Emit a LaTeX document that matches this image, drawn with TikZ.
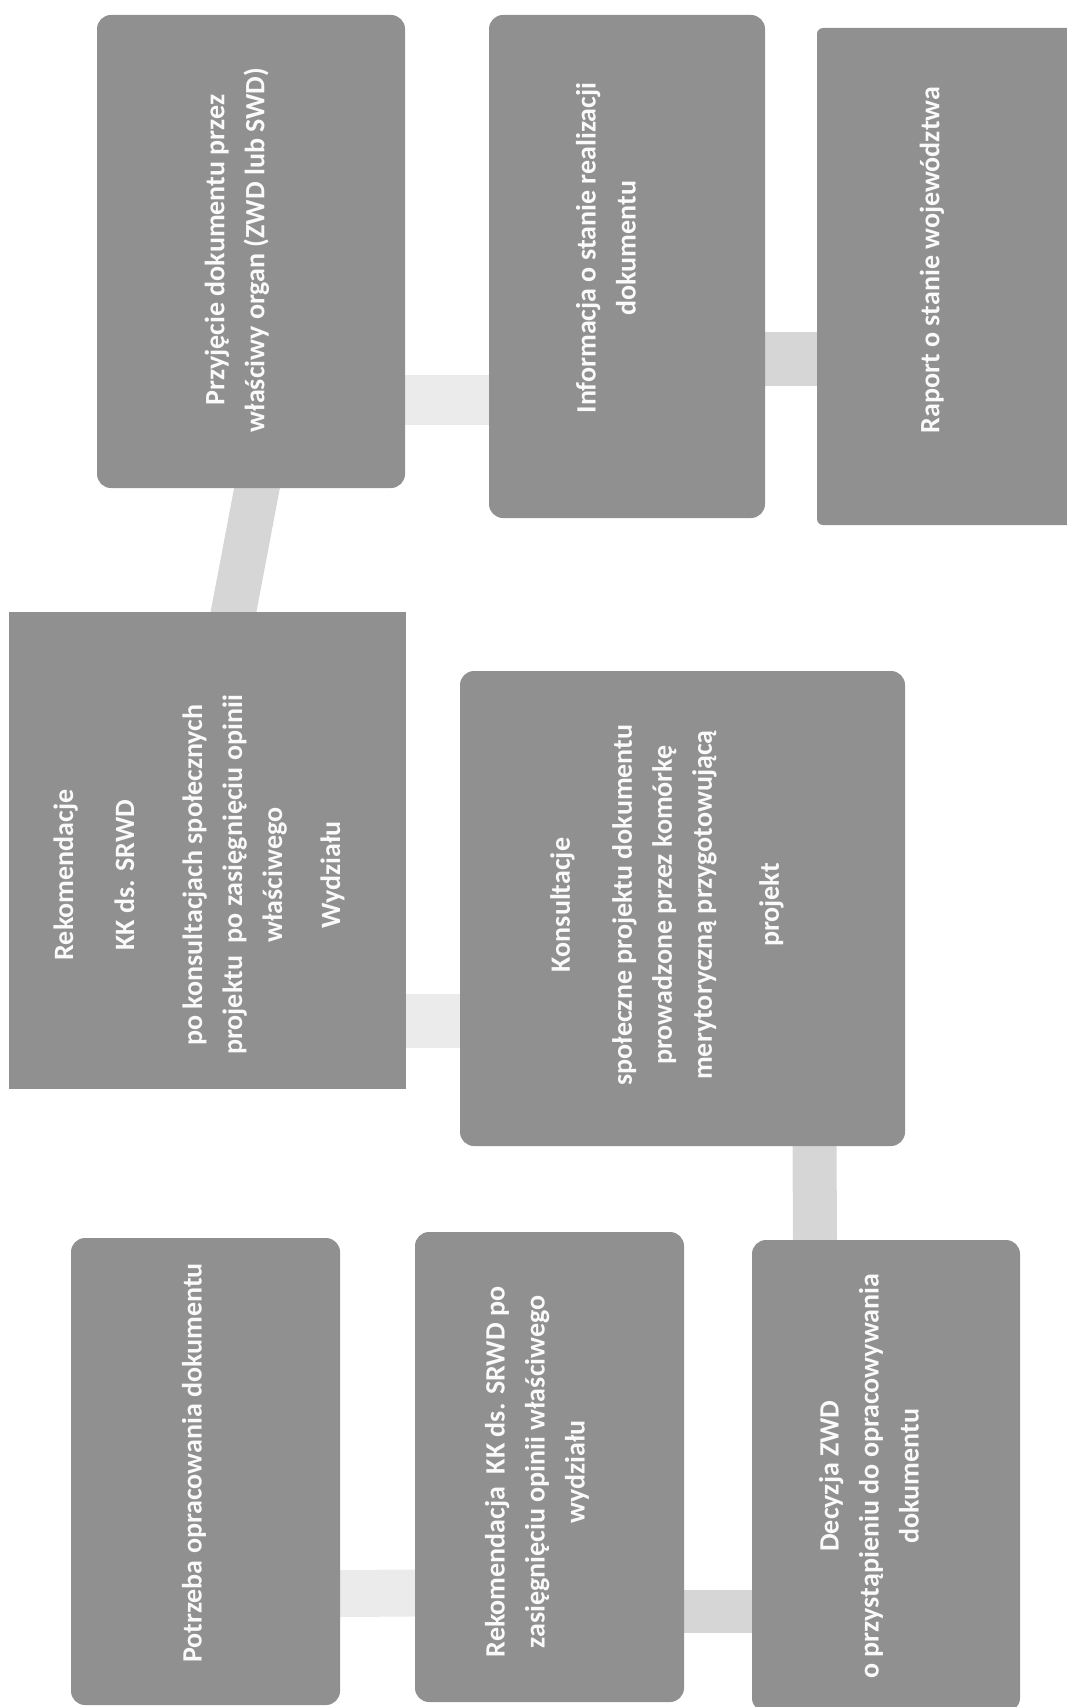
\documentclass[tikz,border=0pt]{standalone}
\usepackage{fontspec}
\setmainfont{Carlito}
\usetikzlibrary{backgrounds}
\definecolor{boxgray}{RGB}{144,144,144}
\definecolor{linkgray}{RGB}{214,214,214}
\definecolor{linkfaint}{RGB}{235,235,235}
\definecolor{textwhite}{RGB}{250,250,250}

\begin{document}
\begin{tikzpicture}
[x=1pt,y=-1pt,
 boxdecorate/.style={fill=boxgray,rounded corners=14pt,inner sep=0pt,outer sep=0pt},
 squaredecorate/.style={fill=boxgray,inner sep=0pt,outer sep=0pt},
 textdecorate/.style={text=textwhite,font=\bfseries\fontsize{28}{40}\selectfont,align=center,rotate=90,inner sep=0pt},
 linedecorate/.style={-,draw=linkgray,line width=48pt,shorten <=-8pt,shorten >=-8pt},
 faintdecorate/.style={linedecorate,draw=linkfaint}]
\useasboundingbox (0,0) rectangle (1066,1707);
%% boxes
\foreach \nodename/\x/\y/\w/\h in {A/251/251.5/308/473, B/627/266.5/276/503,
  E/682.5/908.5/445/475, F/205.5/1471.5/269/467, G/549.5/1467/269/470,
  H/886/1476/268/472}
{
  \node (\nodename) at (\x,\y) [boxdecorate,minimum width=\w pt,minimum height=\h pt] {};
}
\node (C) at (946,276.5) [boxdecorate,rounded corners=6pt,minimum width=258pt,minimum height=497pt] {};
\node (D) at (207.5,850.5) [squaredecorate,minimum width=397pt,minimum height=477pt] {};
%% texts
\node (Atext) at (237,250) [textdecorate] {Przyjęcie dokumentu przez\\właściwy organ (ZWD lub SWD)};
\node (Btext) at (606,248) [textdecorate] {Informacja o stanie realizacji\\dokumentu};
\node (Ctext) at (932,260) [textdecorate] {Raport o stanie województwa};
\node (Dtext) at (199,875) [textdecorate] {Rekomendacje\\[21pt]KK ds. SRWD\\[28pt]po konsultacjach społecznych\\projektu\ \ po zasięgnięciu opinii\\właściwego\\[18pt]Wydziału};
\node (Etext) at (667,905) [textdecorate] {Konsultacje\\[22pt]społeczne projektu dokumentu\\prowadzone przez komórkę\\merytoryczną przygotowującą\\[27pt]projekt};
\node (Ftext) at (194,1463) [textdecorate] {Potrzeba opracowania dokumentu};
\node (Gtext) at (537,1472) [textdecorate] {Rekomendacja\ \ KK ds. SRWD po\\zasięgnięciu opinii właściwego\\wydziału};
\node (Htext) at (869,1476) [textdecorate] {Decyzja ZWD\\o przystąpieniu do opracowywania\\dokumentu};
%% connectors
\begin{scope}[on background layer]
\draw[linedecorate,line width=45pt] ([xshift=6pt]A.south) -- ([xshift=26pt]D.north);
\draw[faintdecorate,line width=50pt] ([yshift=-148pt]A.east) -- ([yshift=-133pt]B.west);
\draw[linedecorate,line width=54pt] ([yshift=-92pt]B.east) -- ([yshift=-82pt]C.west);
\draw[faintdecorate,line width=54pt] ([yshift=-170pt]D.east) -- ([yshift=-112pt]E.west);
\draw[linedecorate,line width=44pt] ([xshift=132pt]E.south) -- ([xshift=-71pt]H.north);
\draw[faintdecorate,line width=47pt] ([yshift=-122pt]F.east) -- ([yshift=-126pt]G.west);
\draw[linedecorate,line width=43pt] ([yshift=-144pt]G.east) -- ([yshift=-135pt]H.west);
\end{scope}
\end{tikzpicture}
\end{document}
